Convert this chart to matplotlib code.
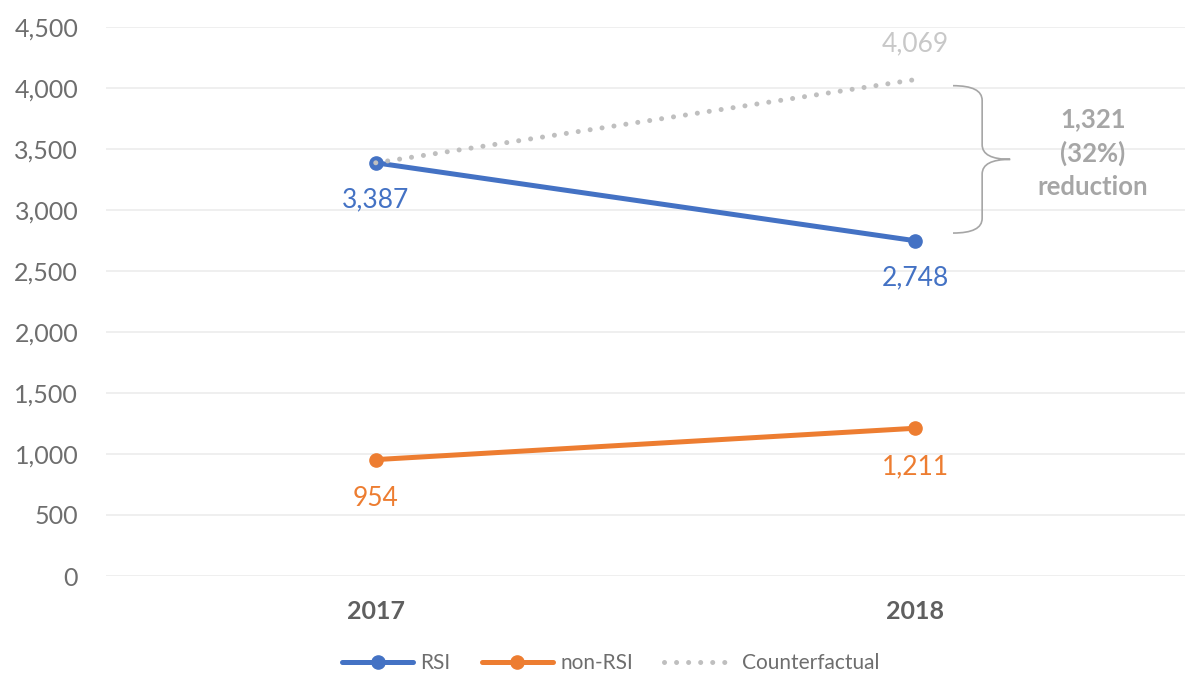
import matplotlib
matplotlib.use("Agg")
import matplotlib.pyplot as plt
from matplotlib.path import Path
from matplotlib.patches import PathPatch

plt.rcParams["font.family"] = ["Lato", "DejaVu Sans"]

# datos
anios = ["2017", "2018"]
rsi = [3387, 2748]
no_rsi = [954, 1211]
contrafactual = [3387, 4069]
reduccion = contrafactual[1] - rsi[1]
reduccion_pct = reduccion / contrafactual[1]

COL_RSI, COL_NO, COL_CF = "#4472C4", "#ED7D31", "#BFBFBF"
COL_TXT, COL_GRID = "#6E6E6E", "#ECECEC"

fig = plt.figure(figsize=(11.85, 6.97), dpi=100)
ax = fig.add_axes([106 / 1185, 1 - 576 / 697, 1079 / 1185, 549 / 697])
x = list(range(len(anios)))

ax.plot(x, rsi, color=COL_RSI, lw=3.6, marker="o", ms=9.5, label="RSI",
        solid_capstyle="round", zorder=3)
ax.plot(x, no_rsi, color=COL_NO, lw=3.6, marker="o", ms=9.5, label="non-RSI",
        solid_capstyle="round", zorder=3)
ax.plot(x, contrafactual, color=COL_CF, lw=3.6, ls=(0, (0.01, 2.4)),
        dash_capstyle="round", label="Counterfactual", zorder=4)

# etiquetas de valor
for xi, v in zip(x, rsi):
    ax.annotate(f"{v:,}", (xi, v), xytext=(0, -27), textcoords="offset points",
                ha="center", va="center", fontsize=19, color=COL_RSI)
for xi, v in zip(x, no_rsi):
    ax.annotate(f"{v:,}", (xi, v), xytext=(0, -28), textcoords="offset points",
                ha="center", va="center", fontsize=19, color=COL_NO)
ax.annotate(f"{contrafactual[1]:,}", (x[1], contrafactual[1]), xytext=(0, 26),
            textcoords="offset points", ha="center", va="center",
            fontsize=19, color="#C8C8C8")

# llave entre contrafactual y RSI en 2018
arriba, abajo = contrafactual[1] - 50, rsi[1] + 63
medio = (arriba + abajo) / 2
x0, x1, x2 = 1.070, 1.124, 1.176
r = 120
verts = [(x0, arriba), (x1, arriba), (x1, arriba - r),
         (x1, medio + r), (x1, medio), (x2, medio),
         (x1, medio), (x1, medio - r),
         (x1, abajo + r), (x1, abajo), (x0, abajo)]
codes = [Path.MOVETO, Path.CURVE3, Path.CURVE3,
         Path.LINETO, Path.CURVE3, Path.CURVE3,
         Path.CURVE3, Path.CURVE3,
         Path.LINETO, Path.CURVE3, Path.CURVE3]
ax.add_patch(PathPatch(Path(verts, codes), fill=False, edgecolor="#A6A6A6",
                       lw=1.2, clip_on=False))
ax.text(1.329, medio + 50, f"{reduccion:,}\n({reduccion_pct:.0%})\nreduction",
        ha="center", va="center", fontsize=18.5, fontweight="bold",
        color="#A6A6A6", linespacing=1.45)

ax.set_xlim(-0.5, 1.5)
ax.set_ylim(0, 4500)
ax.set_xticks(x)
ax.set_xticklabels(anios, fontsize=18, fontweight="bold", color="#5F5F5F")
ax.set_yticks(range(0, 4501, 500))
ax.set_yticklabels([f"{v:,}" for v in range(0, 4501, 500)], fontsize=18,
                   color=COL_TXT)
ax.tick_params(axis="both", length=0)
ax.tick_params(axis="y", pad=20)
ax.tick_params(axis="x", pad=17)
ax.grid(True, axis="y", color=COL_GRID, lw=1.2, zorder=0)
ax.set_axisbelow(True)
for s in ax.spines.values():
    s.set_visible(False)

fig.legend(loc="center", bbox_to_anchor=(611 / 1185, 1 - 663 / 697), ncol=3,
           frameon=False, fontsize=15, handlelength=3.4, handletextpad=0.35,
           columnspacing=1.5, labelcolor=COL_TXT)

fig.savefig("out.png", dpi=100)
